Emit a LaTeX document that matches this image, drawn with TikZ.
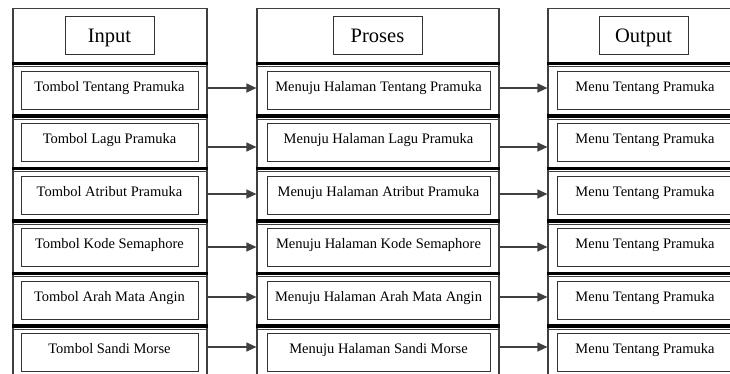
\documentclass[tikz,border=0pt]{standalone}
\usepackage{fontspec}
\setmainfont{Liberation Serif}
\usetikzlibrary{arrows.meta}

\begin{document}
\begin{tikzpicture}
  [x=1pt,y=-1pt,
   colbox/.style={draw=black!75,line width=1.2pt,minimum width=#1,minimum height=400pt,anchor=north,inner sep=0pt},
   hdrbox/.style={draw=black!80,line width=1pt,minimum width=89pt,minimum height=38pt,inner sep=0pt,
     font=\fontsize{20.5}{22}\selectfont,text height=14pt,text depth=0pt},
   itembox/.style={draw=black!80,line width=1pt,minimum width=#1,minimum height=38pt,inner sep=0pt,
     font=\fontsize{14.5}{16}\selectfont,text height=10pt,text depth=8pt},
   sepbar/.style={line width=3.6pt},
   arr/.style={draw=black!75,line width=1.2pt,-{Triangle[length=10pt,width=9pt]}}]

  \path[use as bounding box,clip] (0,0) rectangle (730,373);

  % columns and headers
  \node[colbox=194pt] (incol)  at (110,8) {};
  \node[colbox=242pt] (prcol)  at (378,8) {};
  \node[colbox=192pt] (outcol) at (644,8) {};

  \node[hdrbox] (inhdr)  at (109.5,35) {Input};
  \node[hdrbox] (prhdr)  at (377.5,35) {Proses};
  \node[hdrbox] (outhdr) at (643.5,35) {Output};

  % thick separators
  \foreach \k in {0,...,5} {
    \pgfmathsetmacro\sy{63.3+52.5*\k}
    \pgfmathsetmacro\ty{66.8+52.5*\k}
    \foreach \c in {incol,prcol,outcol} {
      \draw[sepbar] (\c.west |- 0,\sy) -- (\c.east |- 0,\sy);
      \draw[black!75,line width=.8pt] (\c.west |- 0,\ty) -- (\c.east |- 0,\ty);
    }
  }

  % rows
  \foreach \i/\txt/\dy in {1/Tentang Pramuka/2,2/Lagu Pramuka/-4.5,3/Atribut Pramuka/1,
      4/Kode Semaphore/0.5,5/Arah Mata Angin/3,6/Sandi Morse/5.5} {
    \pgfmathsetmacro\ry{37.5+52.5*\i}
    \node[itembox=177pt] (in\i)  at (109.5,\ry) {Tombol \txt};
    \node[itembox=223pt] (pr\i)  at (378.5,\ry) {Menuju Halaman \txt};
    \node[itembox=176pt] (out\i) at (645,\ry)   {Menu Tentang Pramuka};

    \coordinate (a\i) at ([yshift=\dy pt]in\i.east);
    \draw[arr] (a\i -| incol.east) -- (a\i -| prcol.west);
    \draw[arr] (a\i -| prcol.east) -- (a\i -| outcol.west);
  }

\end{tikzpicture}
\end{document}
